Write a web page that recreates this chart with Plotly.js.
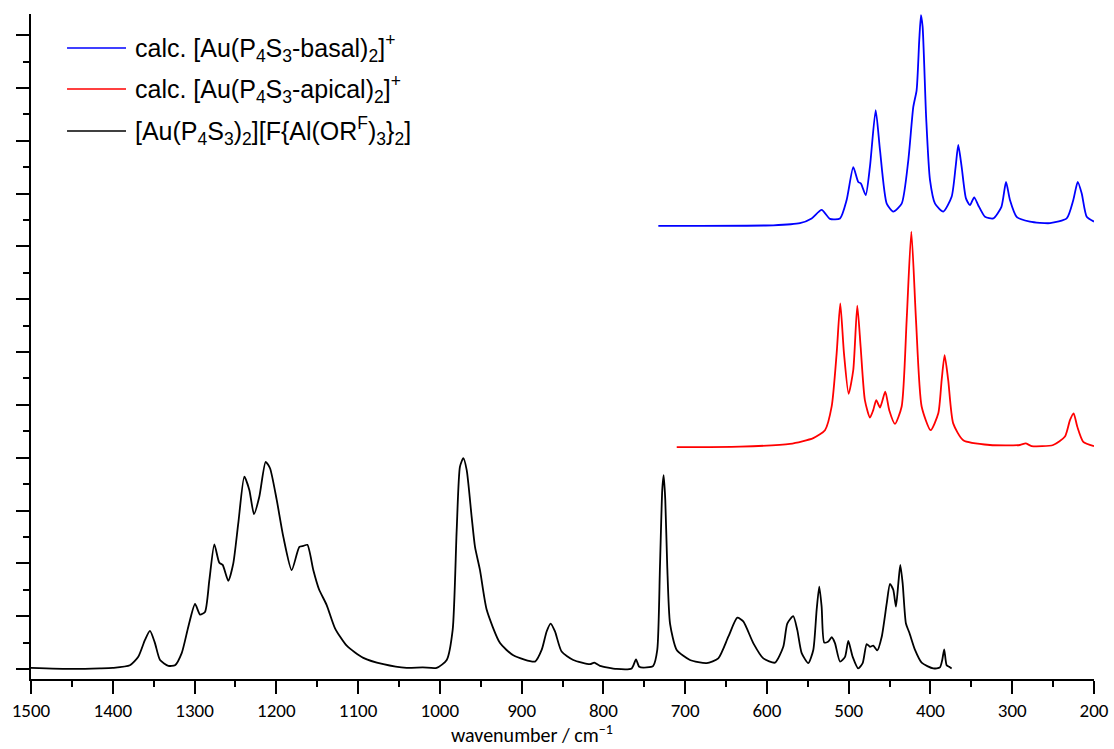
<!DOCTYPE html>
<html>
<head>
<meta charset="utf-8">
<script src="https://cdn.plot.ly/plotly-3.0.1.min.js"></script>
<style>html,body{margin:0;padding:0;background:#fff;}#chart{width:1114px;height:749px;}</style>
</head>
<body>
<div id="chart"></div>
<script>
// Experimental spectrum [Au(P4S3)2][F{Al(ORF)3}2]
const expWavenumber = [1500,1450,1415.6,1400,1379,1368.8,1360.6,1354.5,1348.4,1342.2,1332,1323.9,1315.7,1307.6,1299.4,1293.3,1287.2,1281.9,1275.8,1269.7,1265.6,1258.7,1252.6,1246.5,1239.1,1233,1227.3,1220.8,1213,1207.7,1199.5,1191.4,1181.2,1171.8,1166.9,1162,1154.7,1147.8,1138.4,1128.2,1113.9,1093.6,1069.1,1040.6,1021,1003.9,991.6,984.3,979.4,975.4,971.3,967.2,961.1,957,950.9,942.7,926.4,910.2,883.6,875.5,869.4,864.5,859.2,851.1,836.8,816.4,811.1,804.2,783.8,765.4,760.1,756.1,747,739,734.1,730.8,728,726.3,724.3,721.9,718.5,710.3,694.1,673.7,659.5,647.2,636.2,628.9,616.7,604.4,590.1,580,575.1,567.8,562.9,557.5,549.4,543.3,539.2,536,533.1,529.9,524.9,520.8,516.8,510.6,504.5,500.5,495.1,488.3,482.9,478,474,470,465.1,459.6,453.5,449.5,445.5,442.2,439.3,436.9,434,430,425.9,418.9,410.8,396.6,388.4,385.6,383.2,380.2,377.1,374.1];
const expIntensity = [0.02,0.00,0.01,0.02,0.07,0.23,0.55,0.72,0.49,0.17,0.06,0.07,0.30,0.80,1.23,1.03,1.08,1.68,2.36,2.01,1.97,1.67,2.00,2.76,3.64,3.39,2.93,3.26,3.92,3.80,3.20,2.50,1.87,2.31,2.33,2.35,1.87,1.51,1.21,0.77,0.44,0.21,0.09,0.02,0.03,0.02,0.17,0.74,2.63,3.83,3.99,3.77,2.88,2.31,1.87,1.12,0.49,0.26,0.14,0.36,0.71,0.86,0.71,0.33,0.17,0.09,0.12,0.06,0.00,0.01,0.18,0.04,0.03,0.06,0.36,1.94,3.39,3.67,3.20,1.94,0.86,0.36,0.17,0.11,0.20,0.61,0.97,0.90,0.49,0.20,0.12,0.42,0.86,1.00,0.74,0.30,0.11,0.36,1.12,1.56,1.18,0.50,0.52,0.60,0.49,0.14,0.23,0.53,0.23,0.01,0.11,0.47,0.42,0.44,0.35,0.61,1.24,1.61,1.50,1.18,1.62,1.97,1.62,0.86,0.69,0.36,0.12,0.01,0.03,0.17,0.37,0.07,0.04,0.01];

// calc. [Au(P4S3-apical)2]+  (offset trace)
const apicalWavenumber = [710.3,632.9,571.8,543.3,529,520.8,514.7,510.3,505.8,500.1,494.4,489.5,485.4,480.2,474,470,466.3,461.7,455.3,450.4,443.4,435.2,429.1,423.4,417.7,410.8,399.8,390.4,386.3,382.7,378.3,372.2,359.9,327.3,290.6,283.6,276.3,249.9,235.5,229.4,224.9,220.5,213.1,200];
const apicalIntensity = [4.20,4.21,4.26,4.37,4.52,4.97,5.98,6.92,5.98,5.21,5.66,6.88,6.10,5.09,4.76,4.90,5.09,4.95,5.25,4.90,4.64,4.97,6.61,8.28,6.61,4.97,4.52,4.84,5.47,5.94,5.47,4.65,4.33,4.24,4.24,4.27,4.22,4.24,4.40,4.71,4.84,4.59,4.30,4.22];

// calc. [Au(P4S3-basal)2]+  (offset trace)
const basalWavenumber = [732.8,694.1,592.2,559.6,545.3,533.1,522.9,510.6,502.5,494.4,488.3,485,479.2,474,467,461.7,453.5,445.5,435.2,427.1,421,416.9,413.7,411.6,409.6,405.3,400.6,394.4,384.3,374.1,369.2,366,361.9,356.6,351.7,346.5,341.6,333.3,323.2,313.2,307.6,302.8,294.6,278.3,253.8,233.4,225.3,219.9,215,208.9,200];
const basalIntensity = [8.39,8.39,8.40,8.44,8.53,8.69,8.52,8.53,8.88,9.50,9.22,9.19,8.97,9.51,10.58,9.82,8.81,8.66,8.81,9.63,10.64,10.96,11.91,12.38,12.16,10.45,9.26,8.81,8.66,8.94,9.51,9.92,9.51,8.91,8.78,8.93,8.78,8.56,8.53,8.75,9.22,8.88,8.56,8.47,8.44,8.53,8.88,9.22,9.00,8.56,8.47];

const seriesNames = [
  'calc. [Au(P<sub>4</sub>S<sub>3</sub>-basal)<sub>2</sub>]<sup>+</sup>',
  'calc. [Au(P<sub>4</sub>S<sub>3</sub>-apical)<sub>2</sub>]<sup>+</sup>',
  '[Au(P<sub>4</sub>S<sub>3</sub>)<sub>2</sub>][F{Al(OR<sup>F</sup>)<sub>3</sub>}<sub>2</sub>]'
];
const seriesColors = ['#0000ff', '#ff0000', '#000000'];
const xTitle = 'wavenumber / cm<sup>−1</sup>';

const lineStyle = (c) => ({color: c, width: 1.8, shape: 'spline', smoothing: 0.6});
const traces = [
  {x: basalWavenumber, y: basalIntensity, name: seriesNames[0], mode: 'lines', line: lineStyle(seriesColors[0])},
  {x: apicalWavenumber, y: apicalIntensity, name: seriesNames[1], mode: 'lines', line: lineStyle(seriesColors[1])},
  {x: expWavenumber, y: expIntensity, name: seriesNames[2], mode: 'lines', line: lineStyle(seriesColors[2])}
];

// legend drawn manually (long sample lines)
const legendRowsY = [0.9489, 0.8872, 0.8241];
const shapes = [];
const annotations = [];
legendRowsY.forEach((yy, i) => {
  shapes.push({type: 'line', xref: 'paper', yref: 'paper', x0: 0.0339, x1: 0.0894, y0: yy, y1: yy,
               line: {color: seriesColors[i], width: 1.6}});
  annotations.push({xref: 'paper', yref: 'paper', x: 0.0960, y: yy, xanchor: 'left', yanchor: 'middle',
                    text: seriesNames[i], showarrow: false,
                    font: {family: 'Liberation Sans, Arial, sans-serif', size: 25, color: '#000'}});
});
annotations.push({xref: 'paper', yref: 'paper', x: 0.471, y: -0.083, xanchor: 'center', yanchor: 'middle',
                  text: xTitle, showarrow: false, borderpad: 0,
                  font: {family: 'Carlito, Lato, sans-serif', size: 20, color: '#000'}});

const layout = {
  width: 1114, height: 749,
  margin: {l: 31, r: 20, t: 14, b: 70, pad: 0},
  paper_bgcolor: '#fff', plot_bgcolor: '#fff',
  showlegend: false,
  font: {family: 'Carlito, Lato, sans-serif', size: 19, color: '#000'},
  xaxis: {
    range: [1500, 200], autorange: false,
    tick0: 0, dtick: 100, ticks: 'outside', ticklen: 13, tickwidth: 2, tickcolor: '#000',
    minor: {dtick: 50, ticks: 'outside', ticklen: 6, tickwidth: 2, tickcolor: '#000'},
    showline: true, linewidth: 2, linecolor: '#000', showgrid: false, zeroline: false,
    tickfont: {family: 'Carlito, Lato, sans-serif', size: 19, color: '#000'}
  },
  yaxis: {
    range: [-0.19, 12.40], autorange: false,
    tick0: 0, dtick: 1, ticks: 'outside', ticklen: 13, tickwidth: 2, tickcolor: '#000',
    minor: {dtick: 0.5, ticks: 'outside', ticklen: 6, tickwidth: 2, tickcolor: '#000'},
    showticklabels: false,
    showline: true, linewidth: 2, linecolor: '#000', showgrid: false, zeroline: false
  },
  shapes: shapes,
  annotations: annotations
};

Plotly.newPlot('chart', traces, layout, {displayModeBar: false, staticPlot: true});
</script>
</body>
</html>
